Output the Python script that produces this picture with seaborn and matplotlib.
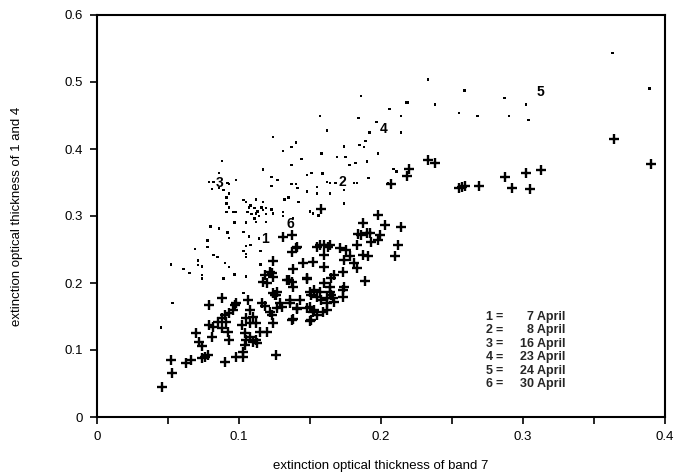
import matplotlib
matplotlib.use("Agg")
import matplotlib.pyplot as plt
import seaborn as sns
import pandas as pd
from matplotlib.ticker import MultipleLocator, FuncFormatter

# ---------------- data ----------------
plus_x = [0.364, 0.390, 0.233, 0.238, 0.220, 0.218, 0.207, 0.255, 0.257, 0.259,
          0.269, 0.287, 0.292, 0.302, 0.305, 0.313, 0.158, 0.198, 0.187, 0.203,
          0.214, 0.212, 0.210, 0.199, 0.193, 0.186, 0.190, 0.192, 0.198, 0.183,
          0.171, 0.175, 0.187, 0.191, 0.178, 0.174, 0.181, 0.183, 0.173, 0.167,
          0.165, 0.189, 0.174, 0.131, 0.137, 0.141, 0.137, 0.124, 0.157, 0.160,
          0.164, 0.160, 0.145, 0.152, 0.160, 0.122, 0.118, 0.117, 0.124, 0.134,
          0.137, 0.148, 0.160, 0.164, 0.153, 0.157, 0.151, 0.155, 0.158, 0.162,
          0.164, 0.166, 0.173, 0.173, 0.127, 0.125, 0.129, 0.136, 0.143, 0.141,
          0.148, 0.152, 0.155, 0.162, 0.137, 0.151, 0.126, 0.079, 0.088, 0.070,
          0.072, 0.074, 0.052, 0.053, 0.046, 0.063, 0.066, 0.074, 0.076, 0.078,
          0.090, 0.098, 0.103, 0.103, 0.104, 0.105, 0.092, 0.093, 0.079, 0.081,
          0.085, 0.088, 0.091, 0.090, 0.093, 0.096, 0.097, 0.098, 0.106, 0.108,
          0.110, 0.105, 0.108, 0.112, 0.104, 0.108, 0.112, 0.102, 0.110, 0.113,
          0.115, 0.116, 0.118, 0.122, 0.123, 0.124, 0.120, 0.127, 0.130, 0.124,
          0.126, 0.120, 0.123, 0.135, 0.138, 0.138, 0.136, 0.138, 0.141, 0.140,
          0.148, 0.150, 0.150, 0.153, 0.159, 0.150, 0.162, 0.155, 0.163, 0.167,
          0.165, 0.184, 0.088, 0.082]
plus_y = [0.415, 0.378, 0.384, 0.379, 0.370, 0.360, 0.348, 0.342, 0.343, 0.345,
          0.345, 0.358, 0.342, 0.364, 0.340, 0.369, 0.310, 0.301, 0.290, 0.287,
          0.284, 0.257, 0.240, 0.272, 0.261, 0.272, 0.275, 0.275, 0.264, 0.257,
          0.252, 0.249, 0.242, 0.240, 0.240, 0.234, 0.230, 0.222, 0.216, 0.212,
          0.207, 0.203, 0.194, 0.269, 0.272, 0.254, 0.246, 0.233, 0.257, 0.257,
          0.257, 0.242, 0.230, 0.231, 0.224, 0.216, 0.212, 0.201, 0.209, 0.204,
          0.201, 0.206, 0.200, 0.194, 0.190, 0.187, 0.182, 0.179, 0.175, 0.170,
          0.187, 0.178, 0.190, 0.179, 0.187, 0.182, 0.170, 0.175, 0.175, 0.161,
          0.163, 0.157, 0.152, 0.160, 0.145, 0.145, 0.093, 0.167, 0.178, 0.125,
          0.112, 0.106, 0.085, 0.066, 0.045, 0.081, 0.085, 0.088, 0.090, 0.093,
          0.082, 0.090, 0.090, 0.097, 0.107, 0.115, 0.127, 0.115, 0.137, 0.119,
          0.142, 0.148, 0.142, 0.152, 0.155, 0.160, 0.167, 0.170, 0.175, 0.160,
          0.149, 0.148, 0.140, 0.140, 0.125, 0.119, 0.115, 0.137, 0.112, 0.110,
          0.127, 0.170, 0.166, 0.157, 0.152, 0.140, 0.127, 0.163, 0.164, 0.185,
          0.182, 0.200, 0.215, 0.204, 0.221, 0.194, 0.170, 0.146, 0.163, 0.252,
          0.207, 0.187, 0.164, 0.160, 0.157, 0.143, 0.178, 0.254, 0.254, 0.172,
          0.182, 0.273, 0.133, 0.134]

dot_x = [0.363, 0.389, 0.233, 0.259, 0.287, 0.302, 0.304, 0.290, 0.268, 0.255,
         0.238, 0.218, 0.219, 0.206, 0.214, 0.214, 0.209, 0.211, 0.186, 0.157,
         0.184, 0.197, 0.162, 0.124, 0.140, 0.137, 0.131, 0.174, 0.185, 0.188,
         0.189, 0.192, 0.144, 0.158, 0.169, 0.175, 0.198, 0.182, 0.178, 0.190,
         0.137, 0.088, 0.117, 0.151, 0.148, 0.159, 0.123, 0.127, 0.098, 0.086,
         0.092, 0.079, 0.082, 0.086, 0.089, 0.081, 0.093, 0.123, 0.137, 0.140,
         0.141, 0.148, 0.155, 0.155, 0.162, 0.164, 0.168, 0.164, 0.174, 0.181,
         0.183, 0.191, 0.205, 0.135, 0.132, 0.142, 0.174, 0.103, 0.105, 0.112,
         0.117, 0.091, 0.093, 0.096, 0.098, 0.107, 0.111, 0.113, 0.117, 0.119,
         0.123, 0.124, 0.131, 0.131, 0.138, 0.150, 0.152, 0.156, 0.093, 0.091,
         0.091, 0.108, 0.116, 0.106, 0.109, 0.112, 0.114, 0.119, 0.111, 0.112,
         0.119, 0.080, 0.086, 0.097, 0.105, 0.103, 0.092, 0.093, 0.107, 0.114,
         0.078, 0.078, 0.108, 0.105, 0.103, 0.105, 0.105, 0.069, 0.082, 0.085,
         0.115, 0.052, 0.071, 0.071, 0.074, 0.061, 0.090, 0.093, 0.115, 0.065,
         0.074, 0.074, 0.089, 0.097, 0.105, 0.053, 0.045, 0.103]
dot_y = [0.543, 0.490, 0.504, 0.487, 0.476, 0.466, 0.443, 0.449, 0.449, 0.454,
         0.466, 0.469, 0.469, 0.460, 0.449, 0.425, 0.370, 0.366, 0.479, 0.449,
         0.446, 0.440, 0.428, 0.418, 0.410, 0.403, 0.397, 0.404, 0.406, 0.403,
         0.412, 0.425, 0.385, 0.393, 0.388, 0.388, 0.393, 0.379, 0.376, 0.381,
         0.376, 0.382, 0.369, 0.364, 0.361, 0.363, 0.358, 0.354, 0.354, 0.364,
         0.349, 0.351, 0.351, 0.342, 0.339, 0.340, 0.334, 0.345, 0.348, 0.348,
         0.342, 0.337, 0.343, 0.334, 0.351, 0.349, 0.349, 0.334, 0.339, 0.349,
         0.349, 0.357, 0.349, 0.328, 0.325, 0.321, 0.319, 0.324, 0.321, 0.325,
         0.321, 0.319, 0.313, 0.306, 0.306, 0.313, 0.312, 0.307, 0.309, 0.312,
         0.310, 0.304, 0.306, 0.300, 0.297, 0.307, 0.304, 0.301, 0.348, 0.328,
         0.306, 0.316, 0.313, 0.306, 0.303, 0.304, 0.300, 0.303, 0.296, 0.291,
         0.291, 0.284, 0.281, 0.290, 0.290, 0.276, 0.275, 0.267, 0.269, 0.266,
         0.263, 0.254, 0.257, 0.255, 0.248, 0.243, 0.239, 0.251, 0.242, 0.239,
         0.248, 0.228, 0.234, 0.227, 0.225, 0.221, 0.230, 0.224, 0.228, 0.215,
         0.212, 0.207, 0.207, 0.213, 0.210, 0.170, 0.134, 0.185]

# group labels drawn inside the cloud
label_names = ["1", "2", "3", "4", "5", "6"]
label_x = [0.118, 0.173, 0.086, 0.202, 0.312, 0.136]
label_y = [0.266, 0.351, 0.349, 0.430, 0.485, 0.288]

# key of dates
key_numbers = ["1", "2", "3", "4", "5", "6"]
key_dates = ["7 April", "8 April", "16 April", "23 April", "24 April", "30 April"]

x_label = "extinction optical thickness of band 7"
y_label = "extinction optical thickness of 1 and 4"

# ---------------- plot ----------------
sns.set_theme(style="ticks")
plt.rcParams["font.family"] = ["Liberation Sans", "DejaVu Sans"]

fig = plt.figure(figsize=(6.76, 4.72), dpi=100)
ax = fig.add_axes([97 / 676, 55 / 472, 568 / 676, 402 / 472])

dots = pd.DataFrame({"x": dot_x, "y": dot_y})
pluses = pd.DataFrame({"x": plus_x, "y": plus_y})

sns.scatterplot(data=dots, x="x", y="y", ax=ax, marker="s", s=3.5,
                color="black", edgecolor="none", linewidth=0)
sns.scatterplot(data=pluses, x="x", y="y", ax=ax, marker="+", s=42,
                color="black", linewidth=1.7)

for name, lx, ly in zip(label_names, label_x, label_y):
    ax.text(lx, ly, name, ha="center", va="center", fontsize=10,
            fontweight="bold", color="black")

row_y0 = 0.249
row_dy = 0.0335
for i, (num, date) in enumerate(zip(key_numbers, key_dates)):
    yy = row_y0 - i * row_dy
    ax.text(0.690, yy, num, transform=ax.transAxes, ha="center", va="center",
            fontsize=9, fontweight="bold")
    ax.text(0.708, yy, "=", transform=ax.transAxes, ha="center", va="center",
            fontsize=9, fontweight="bold")
    ax.text(0.824, yy, date, transform=ax.transAxes, ha="right", va="center",
            fontsize=9, fontweight="bold")

ax.set_xlim(0, 0.4)
ax.set_ylim(0, 0.6)
fmt = FuncFormatter(lambda v, pos: "%g" % round(v, 3))
ax.xaxis.set_major_locator(MultipleLocator(0.1))
ax.xaxis.set_minor_locator(MultipleLocator(0.05))
ax.yaxis.set_major_locator(MultipleLocator(0.1))
ax.xaxis.set_major_formatter(fmt)
ax.yaxis.set_major_formatter(fmt)
ax.tick_params(axis="both", which="both", direction="out", length=5,
               width=1.2, colors="black", labelsize=9.5, pad=5)

for sp in ax.spines.values():
    sp.set_visible(True)
    sp.set_linewidth(1.5)
    sp.set_color("black")

ax.set_xlabel(x_label, fontsize=9.5, labelpad=12, color="black")
ax.set_ylabel(y_label, fontsize=9.5, labelpad=30, color="black")
ax.set_facecolor("white")
fig.patch.set_facecolor("white")

fig.savefig("out.png", dpi=100)
